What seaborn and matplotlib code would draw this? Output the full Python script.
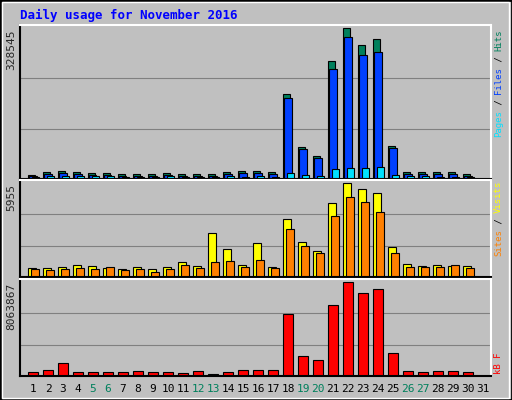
import numpy as np
import matplotlib
matplotlib.use("Agg")
import matplotlib.pyplot as plt
import seaborn as sns

days = list(range(1, 32))
bar_days = list(range(1, 31))

hits = [9700, 14900, 17100, 14900, 12600, 12600, 10400, 10400, 10400, 12600,
        10400, 10400, 10400, 14900, 17100, 17100, 14900, 185800, 69900, 49800,
        257200, 328545, 290600, 304000, 72100, 14900, 14900, 14900, 14900, 10400]
files = [7400, 11200, 12600, 11200, 9500, 9500, 7400, 7400, 7400, 9500,
         7400, 7400, 7400, 11200, 12600, 12600, 11200, 176900, 65400, 45300,
         239300, 308500, 270600, 277300, 67600, 11200, 11200, 11200, 11200, 7400]
pages = [5200, 7400, 7400, 7400, 7400, 7400, 5200, 5200, 5200, 7400,
         5200, 5200, 5200, 7400, 5200, 7400, 5200, 14100, 9700, 7400,
         20800, 23000, 23000, 25300, 9700, 7400, 7400, 5200, 5200, 5200]
visits = [580, 580, 650, 780, 710, 580, 520, 650, 520, 650,
          970, 710, 2780, 1750, 780, 2140, 650, 3690, 2200, 1620,
          4660, 5955, 5570, 5310, 1880, 840, 710, 780, 710, 710]
sites = [520, 450, 520, 580, 520, 650, 450, 520, 320, 520,
         780, 580, 970, 1040, 650, 1100, 580, 3040, 1940, 1490,
         3880, 5050, 4730, 4140, 1490, 650, 650, 650, 780, 580]
kbytes = [354000, 532000, 1150000, 354000, 354000, 354000, 354000, 443000, 354000, 354000,
          266000, 443000, 177000, 354000, 532000, 532000, 532000, 5320000, 1680000, 1330000,
          6110000, 8063867, 7090000, 7440000, 1950000, 443000, 354000, 443000, 443000, 354000]
weekends = [5, 6, 12, 13, 19, 20, 26, 27]

sns.set_style("white")
plt.rcParams['font.family'] = ['DejaVu Sans Mono']

bg = "#c0c0c0"
fig = plt.figure(figsize=(5.12, 4.0), dpi=100, facecolor=bg)
W, H = 512, 400


def mkax(top, bottom):
    ax = fig.add_axes([20 / W, 1 - bottom / H, 471 / W, (bottom - top) / H])
    ax.set_facecolor(bg)
    for s in ax.spines.values():
        s.set_color("white")
        s.set_linewidth(1.5)
    ax.spines['left'].set_color("black")
    ax.spines['bottom'].set_color("black")
    ax.set_xlim(0.13, 31.53)
    ax.set_xticks([])
    ax.set_yticks([])
    return ax


def side_label(parts, bottom_px, step=5.4):
    # vertical legend text, pieces laid out bottom-to-top in monospace
    pos = 0
    for txt, col in parts:
        fig.text(494 / W, 1 - (bottom_px - pos * step) / H, txt, rotation=90,
                 va="bottom", ha="left", color=col, fontsize=6.5)
        pos += len(txt)


x = np.array(bar_days)
ec = dict(edgecolor="black", linewidth=0.8, align="edge")

ax1 = mkax(25, 179)
ax1.set_ylim(0, 328545 * 1.02)
for f in (1 / 3, 2 / 3):
    ax1.axhline(328545 * f, color="#808080", lw=0.8, zorder=0)
ax1.bar(x - 0.37, hits, width=0.47, color="#00805c", **ec)
ax1.bar(x - 0.24, files, width=0.47, color="#0040ff", **ec)
ax1.bar(x - 0.1, pages, width=0.47, color="#00e0ff", **ec)
fig.text(6 / W, 1 - 30 / H, "328545", rotation=90, va="top", ha="left", fontsize=8)
side_label([("Pages", "#00e0ff"), (" / ", "black"), ("Files", "#0040ff"),
            (" / ", "black"), ("Hits", "#00805c")], 137)

ax2 = mkax(180, 277)
ax2.set_ylim(0, 5955 * 1.03)
for f in (1 / 3, 2 / 3):
    ax2.axhline(5955 * f, color="#808080", lw=0.8, zorder=0)
ax2.bar(x - 0.37, visits, width=0.55, color="#ffff00", **ec)
ax2.bar(x - 0.17, sites, width=0.55, color="#ff8000", **ec)
fig.text(6 / W, 1 - 184 / H, "5955", rotation=90, va="top", ha="left", fontsize=8)
side_label([("Sites", "#ff8000"), (" / ", "black"), ("Visits", "#ffff00")], 256)

ax3 = mkax(279, 376)
ax3.set_ylim(0, 8063867 * 1.03)
for f in (1 / 3, 2 / 3):
    ax3.axhline(8063867 * f, color="#808080", lw=0.8, zorder=0)
ax3.bar(x - 0.35, kbytes, width=0.7, color="#ff0000", **ec)
fig.text(6 / W, 1 - 283 / H, "8063867", rotation=90, va="top", ha="left", fontsize=8)
side_label([("kB F", "#ff0000")], 374)

ax3.set_xticks(days)
ax3.set_xticklabels([str(d) for d in days], fontsize=8)
ax3.tick_params(axis="x", length=0, pad=6)
for lbl, d in zip(ax3.get_xticklabels(), days):
    lbl.set_color("#00805c" if d in weekends else "black")

fig.text(20 / W, 1 - 15 / H, "Daily usage for November 2016", color="#0000ff",
         fontsize=9, fontweight="bold", va="center")

fig.patches.append(plt.Rectangle((0, 0), 1, 1, transform=fig.transFigure, fill=False,
                                 edgecolor="black", lw=2))
fig.patches.append(plt.Rectangle((0.004, 0.006), 0.99, 0.99, transform=fig.transFigure,
                                 fill=False, edgecolor="white", lw=1))
fig.savefig("out.png", dpi=100, facecolor=bg)
